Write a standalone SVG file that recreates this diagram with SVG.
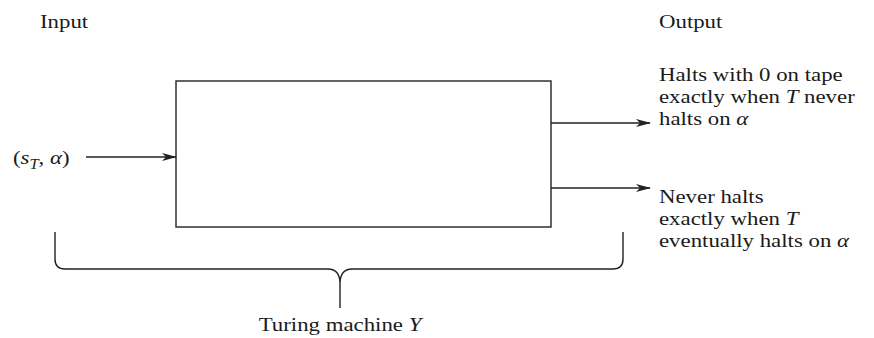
<svg xmlns="http://www.w3.org/2000/svg" width="874" height="338" viewBox="0 0 874 338">
<style>
text{font-family:"Liberation Serif","Times New Roman",serif;font-size:19.5px;fill:#1a1a1a}
.i{font-style:italic}
.ln{stroke:#222;stroke-width:1.4;fill:none}
</style>
<defs>
<marker id="ah" markerWidth="15" markerHeight="8" refX="14" refY="4" orient="auto" markerUnits="userSpaceOnUse">
<path d="M0,0 L15,4 L0,8 L4,4 z" fill="#222"/>
</marker>
</defs>
<rect width="874" height="338" fill="#fff"/>
<g id="labels">
<text transform="matrix(1.17 0 0 1 40 28)">Input</text>
<text transform="matrix(1.17 0 0 1 659 28)">Output</text>
</g>
<g id="machine">
<rect x="176" y="81" width="375" height="146" class="ln"/>
</g>
<g id="input">
<text transform="matrix(1.17 0 0 1 13 164)">(<tspan class="i">s</tspan><tspan class="i" font-size="14" dy="5">T</tspan><tspan dy="-5">, </tspan><tspan class="i">α</tspan>)</text>
</g>
<g id="output1">
<text transform="matrix(1.17 0 0 1 659 81)">Halts with 0 on tape</text>
<text transform="matrix(1.17 0 0 1 659 103)">exactly when <tspan class="i">T</tspan> never</text>
<text transform="matrix(1.17 0 0 1 659 125)">halts on <tspan class="i">α</tspan></text>
</g>
<g id="output2">
<text transform="matrix(1.17 0 0 1 659 203)">Never halts</text>
<text transform="matrix(1.17 0 0 1 659 225)">exactly when <tspan class="i">T</tspan></text>
<text transform="matrix(1.17 0 0 1 659 247)">eventually halts on <tspan class="i">α</tspan></text>
</g>
<g id="brace">
<path class="ln" d="M55,232 V259 Q55,269 65,269 H328 Q340,269 340,284 V308 M623,232 V259 Q623,269 613,269 H352 Q340,269 340,284"/>
<text transform="matrix(1.17 0 0 1 340 331)" text-anchor="middle">Turing machine <tspan class="i">Y</tspan></text>
</g>
<g id="connectors">
<line x1="86" y1="157" x2="176" y2="157" class="ln" marker-end="url(#ah)"/>
<line x1="551" y1="123" x2="650" y2="123" class="ln" marker-end="url(#ah)"/>
<line x1="551" y1="188" x2="650" y2="188" class="ln" marker-end="url(#ah)"/>
</g>
</svg>
